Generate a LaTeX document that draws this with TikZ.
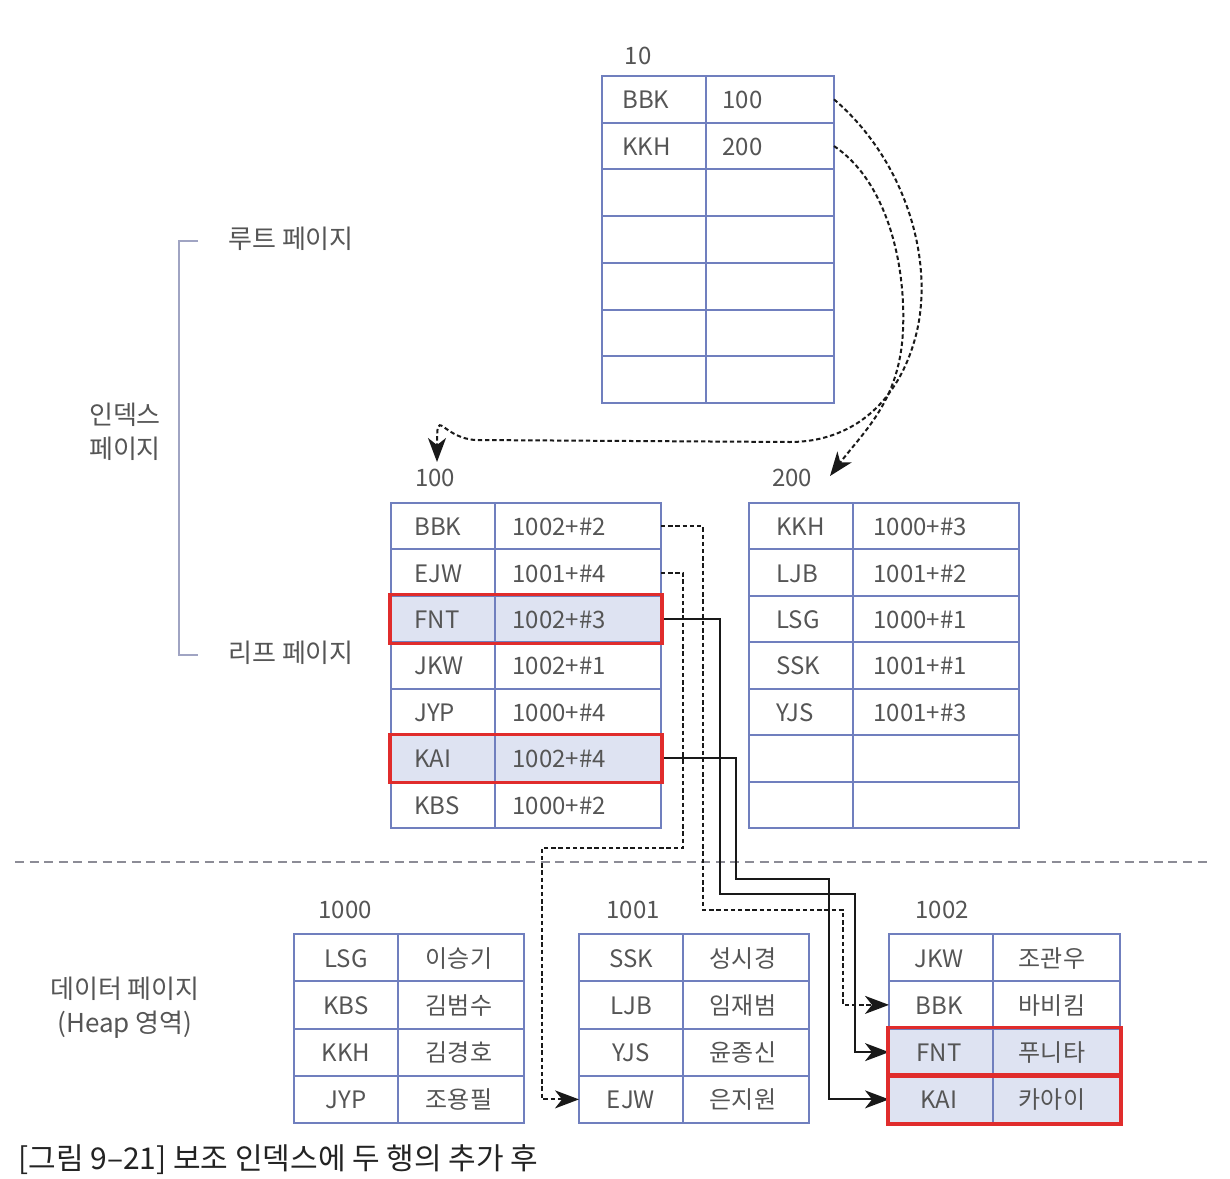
\documentclass[tikz,border=0pt]{standalone}
\usepackage{fontspec}
\setmainfont{Noto Sans CJK KR}
\usetikzlibrary{arrows.meta,backgrounds}
\definecolor{tblue}{RGB}{112,127,190}
\definecolor{hlfill}{RGB}{222,227,242}
\definecolor{hred}{RGB}{224,44,44}
\definecolor{txtgray}{RGB}{85,85,85}
\definecolor{conn}{RGB}{25,25,25}
\definecolor{brkcol}{RGB}{160,164,195}
\definecolor{sepgray}{RGB}{140,140,150}
\definecolor{capcol}{RGB}{35,35,35}
\tikzset{
  rowcell/.style={draw=tblue, line width=1pt, inner sep=0pt, outer sep=0pt},
  tline/.style={draw=tblue, line width=1pt},
  ltxt/.style={anchor=west, inner sep=0pt, text=txtgray, text height=0.74em, text depth=0pt, yshift=-1pt},
  ctxt/.style={anchor=center, inner sep=0pt, text=txtgray, text height=0.74em, text depth=0pt, yshift=-1pt},
  lbl/.style={inner sep=0pt, text=txtgray, text height=0.74em, text depth=0pt},
  mlbl/.style={inner sep=0pt, text=txtgray, align=center, font=\fontsize{13}{17}\selectfont},
  redbox/.style={draw=hred, line width=1.6pt},
  tipstyle/.style={-{Stealth[length=12pt,width=9pt,inset=3.5pt]}},
  dconn/.style={draw=conn, line width=1pt, dash pattern=on 2.2pt off 1.4pt, tipstyle},
  sconn/.style={draw=conn, line width=0.9pt, tipstyle},
  sepline/.style={draw=sepgray, line width=1pt, dash pattern=on 4.5pt off 2.8pt},
  brkline/.style={draw=brkcol, line width=1pt}
}
% name, x0, x1, y0, row height, rows
\newcommand\mktable[6]{%
  \foreach \i in {1,...,#6}{%
    \node[rowcell, minimum width={(#3-#2)*0.5pt}, minimum height={#5*0.5pt}]
      (#1-\i) at ({(#2+#3)/2},{#4+(\i-0.5)*#5}) {};
  }}
% name, x key, x value, list
\newcommand\ltexts[4]{%
  \foreach \k/\v [count=\i] in {#4}{%
    \node[ltxt] (#1-\i-k) at (#2,0 |- #1-\i) {\k};
    \node[ltxt] (#1-\i-v) at (#3,0 |- #1-\i) {\v};
  }}
\newcommand\ctexts[4]{%
  \foreach \k/\v [count=\i] in {#4}{%
    \node[ctxt] (#1-\i-k) at (#2,0 |- #1-\i) {\k};
    \node[ctxt] (#1-\i-v) at (#3,0 |- #1-\i) {\v};
  }}
\begin{document}
\begin{tikzpicture}[x=0.5pt,y=-0.5pt,font=\fontsize{12}{14.4}\selectfont]
\useasboundingbox (0,0) rectangle (1230,1178);
\begin{scope}[on background layer]
  \fill[white] (0,0) rectangle (1230,1178);
\end{scope}

% ---------- tables ----------
\mktable{R}{602}{834}{76}{46.71}{7}
\mktable{L}{391}{661}{503}{46.43}{7}
\mktable{M}{749}{1019}{503}{46.43}{7}
\mktable{A}{294}{524}{934}{47.25}{4}
\mktable{B}{579}{809}{934}{47.25}{4}
\mktable{C}{889}{1120}{934}{47.25}{4}

\begin{scope}[on background layer]
  \foreach \n in {L-3,L-6,C-3,C-4}
    \fill[hlfill] (\n.north west) rectangle (\n.south east);
\end{scope}

% column separators
\draw[tline] (706,0 |- R-1.north) -- (706,0 |- R-7.south);
\draw[tline] (495,0 |- L-1.north) -- (495,0 |- L-7.south);
\draw[tline] (853,0 |- M-1.north) -- (853,0 |- M-7.south);
\draw[tline] (398,0 |- A-1.north) -- (398,0 |- A-4.south);
\draw[tline] (683,0 |- B-1.north) -- (683,0 |- B-4.south);
\draw[tline] (993,0 |- C-1.north) -- (993,0 |- C-4.south);

% ---------- cell texts ----------
\ltexts{R}{622}{722}{BBK/100, KKH/200}
\ltexts{L}{414}{512}{BBK/1002+\#2, EJW/1001+\#4, FNT/1002+\#3, JKW/1002+\#1, JYP/1000+\#4, KAI/1002+\#4, KBS/1000+\#2}
\ltexts{M}{776}{873}{KKH/1000+\#3, LJB/1001+\#2, LSG/1000+\#1, SSK/1001+\#1, YJS/1001+\#3}
\ctexts{A}{346}{459}{LSG/이승기, KBS/김범수, KKH/김경호, JYP/조용필}
\ctexts{B}{631}{743}{SSK/성시경, LJB/임재범, YJS/윤종신, EJW/은지원}
\ctexts{C}{939}{1052}{JKW/조관우, BBK/바비킴, FNT/푸니타, KAI/카아이}

% ---------- page labels ----------
\node[lbl] (p10) at (638,57) {10};
\node[lbl] (p100) at (435,479) {100};
\node[lbl] (p200) at (792,479) {200};
\node[lbl] (p1000) at (345,911) {1000};
\node[lbl] (p1001) at (633,911) {1001};
\node[lbl] (p1002) at (942,911) {1002};

% ---------- side labels ----------
\node[lbl, anchor=west, font=\fontsize{13}{15}\selectfont] (rootlbl) at (228,241) {루트 페이지};
\node[lbl, anchor=west, font=\fontsize{13}{15}\selectfont] (leaflbl) at (228,655) {리프 페이지};
\node[mlbl] (idxlbl) at (125,432) {인덱스\\페이지};
\node[mlbl] (datalbl) at (125,1008) {데이터 페이지\\(Heap 영역)};
\draw[brkline] ([xshift=-15]rootlbl.west) -| (179,0 |- leaflbl.west) -- ([xshift=-15]leaflbl.west);

% separator
\draw[sepline] (15,862) -- (1210,862);

% ---------- root pointers ----------
\coordinate (t100) at (437,462);
\coordinate (t200) at (830,476);
\draw[dconn] (R-1.east) .. controls (905,160) and (935,260) .. (916,335)
  .. controls (898,405) and (850,442) .. (790,442) -- (475,440)
  .. controls (440,437) and (437,405) .. (t100);
\draw[dconn] (R-2.east) .. controls (885,180) and (906,260) .. (903,330)
  .. controls (900,400) and (865,430) .. (t200);

% ---------- leaf pointers ----------
\draw[dconn] (L-1.east) -| (703,910) -| (843,0 |- C-2.west) -- (C-2.west);
\draw[dconn] (L-2.east) -| (683,848) -| (542,0 |- B-4.west) -- (B-4.west);
\draw[sconn] (L-3.east) -| (720,894) -| (855,0 |- C-3.west) -- (C-3.west);
\draw[sconn] (L-6.east) -| (736,879) -| (829,0 |- C-4.west) -- (C-4.west);

% ---------- red highlight boxes ----------
\foreach \n in {L-3,L-6,C-3,C-4}
  \draw[redbox] ([shift={(-1,-1)}]\n.north west) rectangle ([shift={(1,1)}]\n.south east);

% ---------- caption ----------
\node[inner sep=0pt, anchor=west, text=capcol, font=\fontsize{15}{17}\selectfont]
  (cap) at (18,1160) {[그림 9–21] 보조 인덱스에 두 행의 추가 후};
\end{tikzpicture}
\end{document}
